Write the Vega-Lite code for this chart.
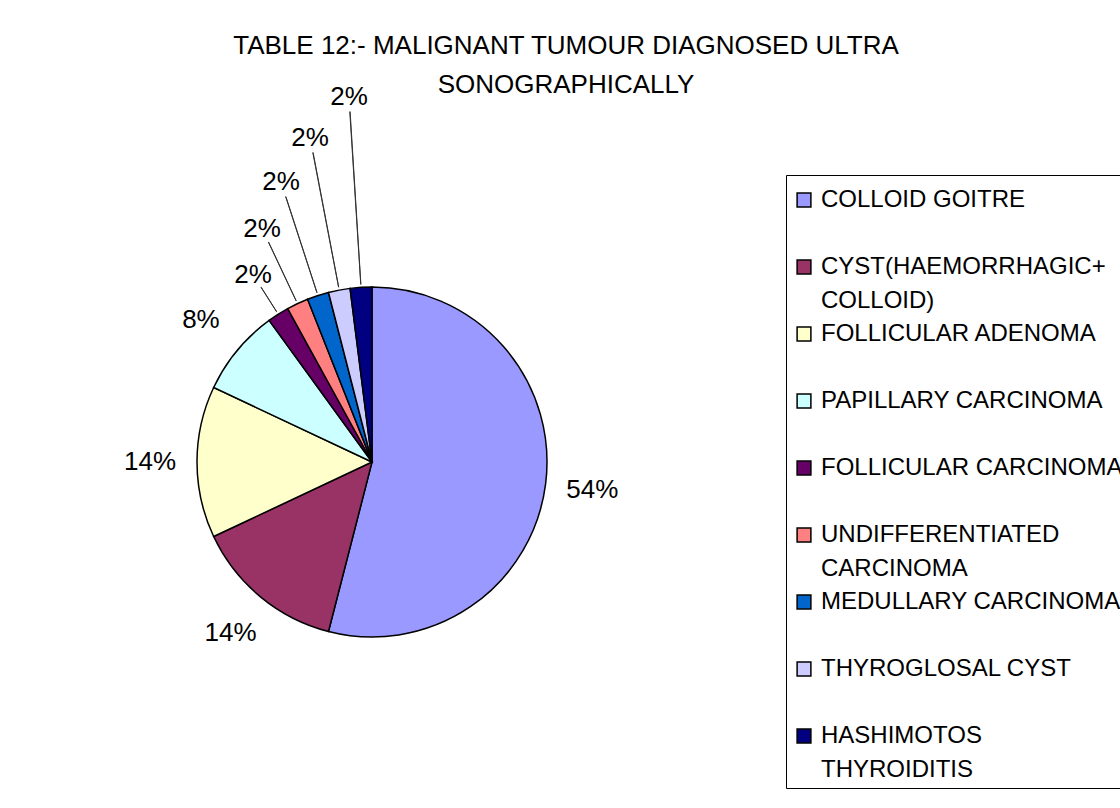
{
  "$schema": "https://vega.github.io/schema/vega-lite/v6.json",
  "width": 732,
  "height": 914,
  "autosize": {"type": "none"},
  "padding": {"left": 6, "top": 5, "right": 382, "bottom": 0},
  "background": "white",
  "title": {
    "text": ["TABLE 12:- MALIGNANT TUMOUR DIAGNOSED ULTRA", "SONOGRAPHICALLY"],
    "anchor": "middle",
    "frame": "group",
    "orient": "top",
    "baseline": "top",
    "dx": 194,
    "dy": 97,
    "font": "Liberation Sans, Arial, sans-serif",
    "fontSize": 26,
    "fontWeight": "normal",
    "lineHeight": 39,
    "color": "black"
  },
  "data": {
    "values": [
      {"category": "COLLOID GOITRE", "share": 0.54},
      {"category": "CYST(HAEMORRHAGIC+ COLLOID)", "share": 0.14},
      {"category": "FOLLICULAR ADENOMA", "share": 0.14},
      {"category": "PAPILLARY CARCINOMA", "share": 0.08},
      {"category": "FOLLICULAR CARCINOMA", "share": 0.02},
      {"category": "UNDIFFERENTIATED CARCINOMA", "share": 0.02},
      {"category": "MEDULLARY CARCINOMA", "share": 0.02},
      {"category": "THYROGLOSAL CYST", "share": 0.02},
      {"category": "HASHIMOTOS THYROIDITIS", "share": 0.02}
    ]
  },
  "transform": [
    {"window": [{"op": "row_number", "as": "idx"}], "frame": [null, 0]},
    {"stack": "share", "groupby": [], "sort": [{"field": "idx", "order": "ascending"}], "as": ["t0", "t1"]}
  ],
  "layer": [
    {
      "mark": {"type": "arc", "outerRadius": 175, "stroke": "black", "strokeWidth": 1.5},
      "encoding": {
        "theta": {"field": "share", "type": "quantitative", "stack": true, "scale": {"domain": [0, 1]}},
        "order": {"field": "idx", "type": "quantitative"},
        "color": {
          "field": "category",
          "type": "nominal",
          "sort": null,
          "scale": {
            "domain": ["COLLOID GOITRE", "CYST(HAEMORRHAGIC+ COLLOID)", "FOLLICULAR ADENOMA", "PAPILLARY CARCINOMA", "FOLLICULAR CARCINOMA", "UNDIFFERENTIATED CARCINOMA", "MEDULLARY CARCINOMA", "THYROGLOSAL CYST", "HASHIMOTOS THYROIDITIS"],
            "range": ["#9999FF", "#993366", "#FFFFCC", "#CCFFFF", "#660066", "#FF8080", "#0066CC", "#CCCCFF", "#000080"]
          },
          "legend": {
            "title": " ",
            "titleFontSize": 2,
            "titlePadding": 5,
            "orient": "none",
            "legendX": 780,
            "legendY": 170,
            "strokeColor": "black",
            "fillColor": "white",
            "padding": 6,
            "symbolType": "square",
            "symbolSize": 190,
            "symbolStrokeColor": "black",
            "symbolStrokeWidth": 1.5,
            "symbolOpacity": 1,
            "labelFont": "Liberation Sans, Arial, sans-serif",
            "labelFontSize": 24,
            "labelColor": "black",
            "labelLimit": 600,
            "labelOffset": 5,
            "rowPadding": 9,
            "labelExpr": "datum.label == 'CYST(HAEMORRHAGIC+ COLLOID)' ? ['CYST(HAEMORRHAGIC+', 'COLLOID)'] : datum.label == 'UNDIFFERENTIATED CARCINOMA' ? ['UNDIFFERENTIATED', 'CARCINOMA'] : datum.label == 'HASHIMOTOS THYROIDITIS' ? ['HASHIMOTOS', 'THYROIDITIS'] : [datum.label, '']"
          }
        }
      }
    },
    {
      "transform": [{"filter": "datum.share < 0.05"}],
      "mark": {"type": "arc", "innerRadius": 178, "thetaOffset": 0.0623, "theta2Offset": 0.0633, "radiusOffset": -15, "stroke": "#333333", "strokeWidth": 1, "fill": "white", "fillOpacity": 0},
      "encoding": {
        "theta": {"field": "t0", "type": "quantitative", "stack": null, "scale": {"domain": [0, 1]}},
        "theta2": {"field": "t0"},
        "radius": {"field": "t1", "type": "quantitative", "scale": {"type": "linear", "domain": [0.92, 1], "range": [222, 366], "clamp": true}}
      }
    },
    {
      "mark": {"type": "text", "radius": 222, "font": "Liberation Sans, Arial, sans-serif", "fontSize": 26, "color": "black", "align": "center", "baseline": "middle"},
      "encoding": {
        "theta": {"field": "share", "type": "quantitative", "stack": true, "scale": {"domain": [0, 1]}},
        "order": {"field": "idx", "type": "quantitative"},
        "text": {"condition": {"test": "datum.share < 0.05", "value": ""}, "field": "share", "type": "quantitative", "format": ".0%"}
      }
    },
    {
      "transform": [{"filter": "datum.share < 0.05"}],
      "mark": {"type": "text", "thetaOffset": 0.0628, "font": "Liberation Sans, Arial, sans-serif", "fontSize": 26, "color": "black", "align": "center", "baseline": "middle"},
      "encoding": {
        "theta": {"field": "t0", "type": "quantitative", "stack": null, "scale": {"domain": [0, 1]}},
        "radius": {"field": "t1", "type": "quantitative", "scale": {"type": "linear", "domain": [0.92, 1], "range": [222, 366], "clamp": true}},
        "text": {"field": "share", "type": "quantitative", "format": ".0%"}
      }
    }
  ],
  "config": {
    "view": {"stroke": null},
    "style": {"guide-label": {"lineHeight": 34}}
  }
}
